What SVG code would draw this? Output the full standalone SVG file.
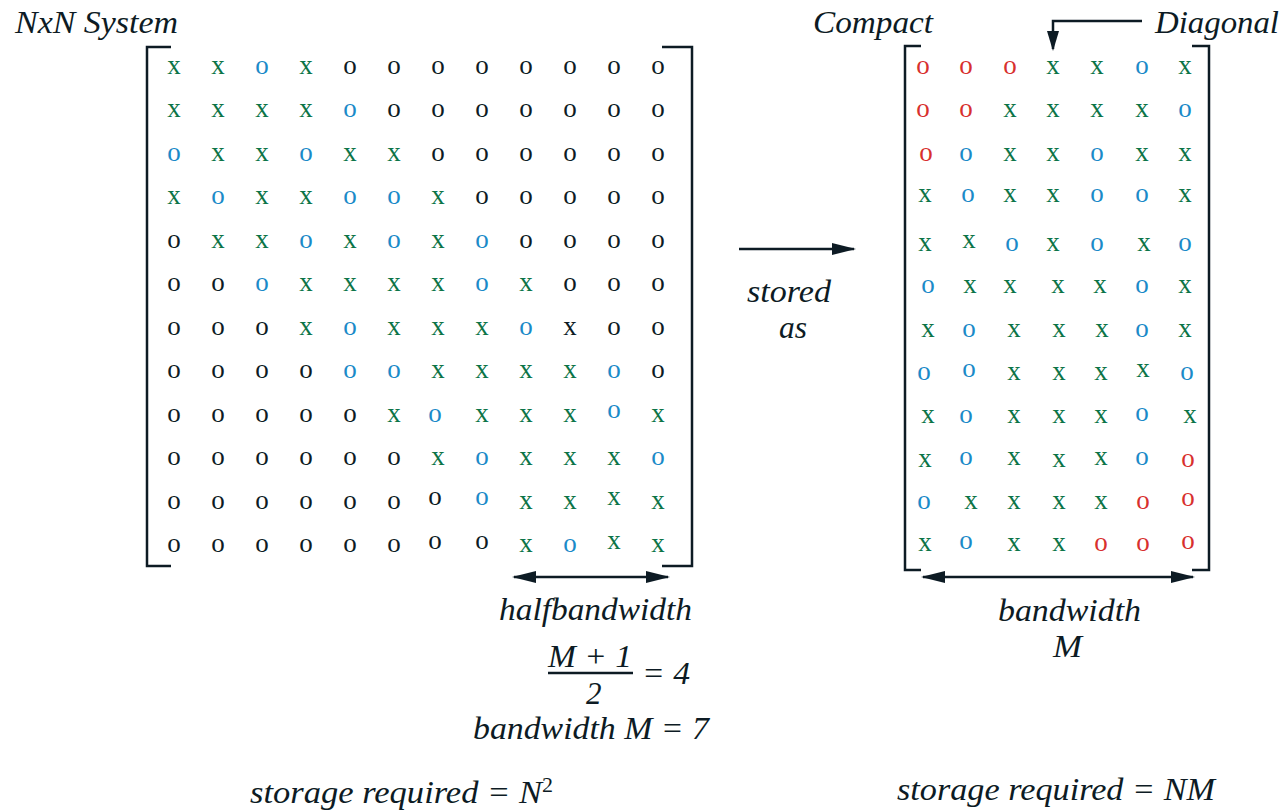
<svg xmlns="http://www.w3.org/2000/svg" width="1285" height="812" viewBox="0 0 1285 812">
<style>
.lbl{font-family:'Liberation Serif',serif;font-style:italic;font-size:31px;fill:#0d1b24}
.m{font-family:'Liberation Serif',serif;font-size:27px;text-anchor:middle}
.g{fill:#0c7447}
.b{fill:#1a8ac8}
.k{fill:#0d1b24}
.r{fill:#d8302e}
.br{fill:none;stroke:#0d1b24;stroke-width:2.5}
.ln{fill:none;stroke:#0d1b24;stroke-width:2.5}
</style>
<defs>
<marker id="ah" viewBox="0 0 24 12" refX="22" refY="6" markerWidth="24" markerHeight="12" markerUnits="userSpaceOnUse" orient="auto-start-reverse">
<path d="M0,0 L24,6 L0,12 z" fill="#0d1b24"/>
</marker>
<marker id="ahs" viewBox="0 0 20 12" refX="18" refY="6" markerWidth="20" markerHeight="12" markerUnits="userSpaceOnUse" orient="auto">
<path d="M0,0 L20,6 L0,12 z" fill="#0d1b24"/>
</marker>
</defs>
<rect width="1285" height="812" fill="#ffffff"/>

<g id="matrix-full">
<path class="br" d="M171,47 H147 V566 H171"/>
<path class="br" d="M662,47 H692 V566 H662"/>
<g class="m" font-family="Liberation Serif">
<text x="174" y="74" class="g">x</text><text x="218" y="74" class="g">x</text><text x="262" y="74" class="b">o</text><text x="306" y="74" class="g">x</text><text x="350" y="74" class="k">o</text><text x="394" y="74" class="k">o</text><text x="438" y="74" class="k">o</text><text x="482" y="74" class="k">o</text><text x="526" y="74" class="k">o</text><text x="570" y="74" class="k">o</text><text x="614" y="74" class="k">o</text><text x="658" y="74" class="k">o</text>
<text x="174" y="117" class="g">x</text><text x="218" y="117" class="g">x</text><text x="262" y="117" class="g">x</text><text x="306" y="117" class="g">x</text><text x="350" y="117" class="b">o</text><text x="394" y="117" class="k">o</text><text x="438" y="117" class="k">o</text><text x="482" y="117" class="k">o</text><text x="526" y="117" class="k">o</text><text x="570" y="117" class="k">o</text><text x="614" y="117" class="k">o</text><text x="658" y="117" class="k">o</text>
<text x="174" y="161" class="b">o</text><text x="218" y="161" class="g">x</text><text x="262" y="161" class="g">x</text><text x="306" y="161" class="b">o</text><text x="350" y="161" class="g">x</text><text x="394" y="161" class="g">x</text><text x="438" y="161" class="k">o</text><text x="482" y="161" class="k">o</text><text x="526" y="161" class="k">o</text><text x="570" y="161" class="k">o</text><text x="614" y="161" class="k">o</text><text x="658" y="161" class="k">o</text>
<text x="174" y="204" class="g">x</text><text x="218" y="204" class="b">o</text><text x="262" y="204" class="g">x</text><text x="306" y="204" class="g">x</text><text x="350" y="204" class="b">o</text><text x="394" y="204" class="b">o</text><text x="438" y="204" class="g">x</text><text x="482" y="204" class="k">o</text><text x="526" y="204" class="k">o</text><text x="570" y="204" class="k">o</text><text x="614" y="204" class="k">o</text><text x="658" y="204" class="k">o</text>
<text x="174" y="248" class="k">o</text><text x="218" y="248" class="g">x</text><text x="262" y="248" class="g">x</text><text x="306" y="248" class="b">o</text><text x="350" y="248" class="g">x</text><text x="394" y="248" class="b">o</text><text x="438" y="248" class="g">x</text><text x="482" y="248" class="b">o</text><text x="526" y="248" class="k">o</text><text x="570" y="248" class="k">o</text><text x="614" y="248" class="k">o</text><text x="658" y="248" class="k">o</text>
<text x="174" y="291" class="k">o</text><text x="218" y="291" class="k">o</text><text x="262" y="291" class="b">o</text><text x="306" y="291" class="g">x</text><text x="350" y="291" class="g">x</text><text x="394" y="291" class="g">x</text><text x="438" y="291" class="g">x</text><text x="482" y="291" class="b">o</text><text x="526" y="291" class="g">x</text><text x="570" y="291" class="k">o</text><text x="614" y="291" class="k">o</text><text x="658" y="291" class="k">o</text>
<text x="174" y="335" class="k">o</text><text x="218" y="335" class="k">o</text><text x="262" y="335" class="k">o</text><text x="306" y="335" class="g">x</text><text x="350" y="335" class="b">o</text><text x="394" y="335" class="g">x</text><text x="438" y="335" class="g">x</text><text x="482" y="335" class="g">x</text><text x="526" y="335" class="b">o</text><text x="570" y="335" class="k">x</text><text x="614" y="335" class="k">o</text><text x="658" y="335" class="k">o</text>
<text x="174" y="378" class="k">o</text><text x="218" y="378" class="k">o</text><text x="262" y="378" class="k">o</text><text x="306" y="378" class="k">o</text><text x="350" y="378" class="b">o</text><text x="394" y="378" class="b">o</text><text x="438" y="378" class="g">x</text><text x="482" y="378" class="g">x</text><text x="526" y="378" class="g">x</text><text x="570" y="378" class="g">x</text><text x="614" y="378" class="b">o</text><text x="658" y="378" class="k">o</text>
<text x="174" y="422" class="k">o</text><text x="218" y="422" class="k">o</text><text x="262" y="422" class="k">o</text><text x="306" y="422" class="k">o</text><text x="350" y="422" class="k">o</text><text x="394" y="422" class="g">x</text><text x="435" y="422" class="b">o</text><text x="482" y="422" class="g">x</text><text x="526" y="422" class="g">x</text><text x="570" y="422" class="g">x</text><text x="614" y="418" class="b">o</text><text x="658" y="422" class="g">x</text>
<text x="174" y="465" class="k">o</text><text x="218" y="465" class="k">o</text><text x="262" y="465" class="k">o</text><text x="306" y="465" class="k">o</text><text x="350" y="465" class="k">o</text><text x="394" y="465" class="k">o</text><text x="438" y="465" class="g">x</text><text x="482" y="465" class="b">o</text><text x="526" y="465" class="g">x</text><text x="570" y="465" class="g">x</text><text x="614" y="465" class="g">x</text><text x="658" y="465" class="b">o</text>
<text x="174" y="509" class="k">o</text><text x="218" y="509" class="k">o</text><text x="262" y="509" class="k">o</text><text x="306" y="509" class="k">o</text><text x="350" y="509" class="k">o</text><text x="394" y="509" class="k">o</text><text x="435" y="505" class="k">o</text><text x="482" y="505" class="b">o</text><text x="526" y="509" class="g">x</text><text x="570" y="509" class="g">x</text><text x="614" y="505" class="g">x</text><text x="658" y="509" class="g">x</text>
<text x="174" y="552" class="k">o</text><text x="218" y="552" class="k">o</text><text x="262" y="552" class="k">o</text><text x="306" y="552" class="k">o</text><text x="350" y="552" class="k">o</text><text x="394" y="552" class="k">o</text><text x="435" y="549" class="k">o</text><text x="482" y="549" class="k">o</text><text x="526" y="552" class="g">x</text><text x="570" y="552" class="b">o</text><text x="614" y="549" class="g">x</text><text x="658" y="552" class="g">x</text>
</g>
</g>

<g id="matrix-compact">
<path class="br" d="M921,46 H905 V570 H921"/>
<path class="br" d="M1192,46 H1209 V570 H1192"/>
<g class="m" font-family="Liberation Serif">
<text x="923" y="74" class="r">o</text><text x="966" y="74" class="r">o</text><text x="1010" y="74" class="r">o</text><text x="1053" y="74" class="g">x</text><text x="1097" y="74" class="g">x</text><text x="1142" y="74" class="b">o</text><text x="1185" y="74" class="g">x</text>
<text x="923" y="117" class="r">o</text><text x="966" y="117" class="r">o</text><text x="1010" y="117" class="g">x</text><text x="1053" y="117" class="g">x</text><text x="1097" y="117" class="g">x</text><text x="1142" y="117" class="g">x</text><text x="1185" y="117" class="b">o</text>
<text x="926" y="161" class="r">o</text><text x="966" y="161" class="b">o</text><text x="1010" y="161" class="g">x</text><text x="1053" y="161" class="g">x</text><text x="1097" y="161" class="b">o</text><text x="1142" y="161" class="g">x</text><text x="1185" y="161" class="g">x</text>
<text x="925" y="202" class="g">x</text><text x="968" y="202" class="b">o</text><text x="1010" y="202" class="g">x</text><text x="1053" y="202" class="g">x</text><text x="1097" y="202" class="b">o</text><text x="1142" y="202" class="b">o</text><text x="1185" y="202" class="g">x</text>
<text x="925" y="251" class="g">x</text><text x="969" y="248" class="g">x</text><text x="1012" y="251" class="b">o</text><text x="1053" y="251" class="g">x</text><text x="1097" y="251" class="b">o</text><text x="1144" y="251" class="g">x</text><text x="1185" y="251" class="b">o</text>
<text x="928" y="293" class="b">o</text><text x="970" y="293" class="g">x</text><text x="1010" y="293" class="g">x</text><text x="1058" y="293" class="g">x</text><text x="1100" y="293" class="g">x</text><text x="1142" y="293" class="b">o</text><text x="1185" y="293" class="g">x</text>
<text x="928" y="337" class="g">x</text><text x="969" y="337" class="b">o</text><text x="1014" y="337" class="g">x</text><text x="1059" y="337" class="g">x</text><text x="1102" y="337" class="g">x</text><text x="1142" y="337" class="b">o</text><text x="1185" y="337" class="g">x</text>
<text x="924" y="380" class="b">o</text><text x="969" y="377" class="b">o</text><text x="1014" y="380" class="g">x</text><text x="1059" y="380" class="g">x</text><text x="1101" y="380" class="g">x</text><text x="1143" y="377" class="g">x</text><text x="1187" y="380" class="b">o</text>
<text x="928" y="423" class="g">x</text><text x="966" y="423" class="b">o</text><text x="1014" y="423" class="g">x</text><text x="1059" y="423" class="g">x</text><text x="1101" y="423" class="g">x</text><text x="1142" y="421" class="b">o</text><text x="1190" y="423" class="g">x</text>
<text x="925" y="467" class="g">x</text><text x="966" y="465" class="b">o</text><text x="1014" y="465" class="g">x</text><text x="1059" y="467" class="g">x</text><text x="1101" y="465" class="g">x</text><text x="1142" y="465" class="b">o</text><text x="1188" y="467" class="r">o</text>
<text x="924" y="509" class="b">o</text><text x="971" y="509" class="g">x</text><text x="1014" y="509" class="g">x</text><text x="1059" y="509" class="g">x</text><text x="1101" y="509" class="g">x</text><text x="1143" y="509" class="r">o</text><text x="1188" y="506" class="r">o</text>
<text x="925" y="551" class="g">x</text><text x="966" y="549" class="b">o</text><text x="1014" y="551" class="g">x</text><text x="1059" y="551" class="g">x</text><text x="1101" y="551" class="r">o</text><text x="1143" y="551" class="r">o</text><text x="1188" y="549" class="r">o</text>
</g>
</g>

<g id="connectors">
<line class="ln" x1="514" y1="577" x2="668" y2="577" marker-start="url(#ah)" marker-end="url(#ah)"/>
<line class="ln" x1="923" y1="577" x2="1193" y2="577" marker-start="url(#ah)" marker-end="url(#ah)"/>
<line class="ln" x1="739" y1="249" x2="854" y2="249" marker-end="url(#ah)"/>
<path class="ln" d="M1142,21 H1053 V49" marker-end="url(#ahs)"/>
<line class="ln" x1="548" y1="673" x2="633" y2="673" stroke-width="2"/>
</g>

<g id="labels" font-family="Liberation Serif">
<text class="lbl" x="15" y="33" textLength="163" lengthAdjust="spacingAndGlyphs">NxN System</text>
<text class="lbl" x="813" y="33" textLength="120" lengthAdjust="spacingAndGlyphs">Compact</text>
<text class="lbl" x="1155" y="33" textLength="124" lengthAdjust="spacingAndGlyphs">Diagonal</text>
<text class="lbl" x="747" y="302" textLength="84" lengthAdjust="spacingAndGlyphs">stored</text>
<text class="lbl" x="779" y="338" textLength="28" lengthAdjust="spacingAndGlyphs">as</text>
<text class="lbl" x="499" y="620" textLength="193" lengthAdjust="spacingAndGlyphs">halfbandwidth</text>
<text class="lbl" x="548" y="667" textLength="84" lengthAdjust="spacingAndGlyphs">M + 1</text>
<text class="lbl" x="586" y="704">2</text>
<text class="lbl" x="642" y="684" textLength="48" lengthAdjust="spacingAndGlyphs">= 4</text>
<text class="lbl" x="473" y="739" textLength="236" lengthAdjust="spacingAndGlyphs">bandwidth M = 7</text>
<text class="lbl" x="250" y="803" textLength="292" lengthAdjust="spacingAndGlyphs">storage required = N</text>
<text class="lbl" x="542" y="792" style="font-style:normal;font-size:22px">2</text>
<text class="lbl" x="998" y="621" textLength="143" lengthAdjust="spacingAndGlyphs">bandwidth</text>
<text class="lbl" x="1053" y="657" textLength="29" lengthAdjust="spacingAndGlyphs">M</text>
<text class="lbl" x="897" y="800" textLength="318" lengthAdjust="spacingAndGlyphs">storage required = NM</text>
</g>
</svg>
